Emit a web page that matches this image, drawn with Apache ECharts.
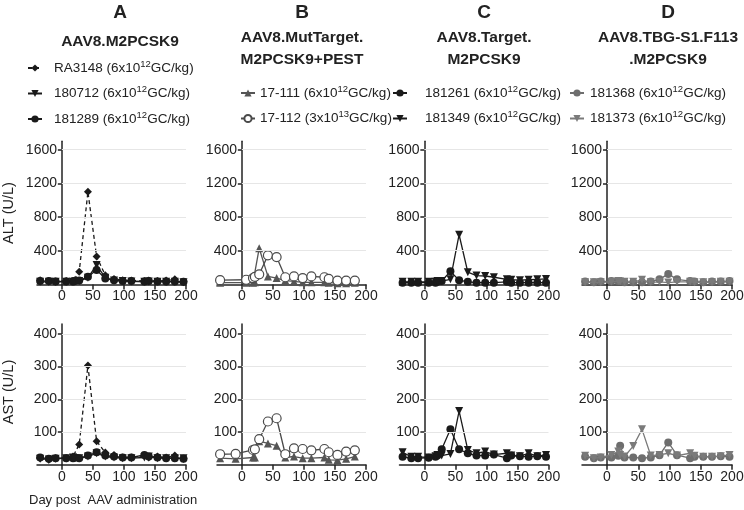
<!DOCTYPE html>
<html><head><meta charset="utf-8">
<script src="https://cdn.jsdelivr.net/npm/echarts@6/dist/echarts.min.js"></script>
<style>html,body{margin:0;padding:0;background:#fff}#c{width:744px;height:510px}</style>
</head><body><div id="c"></div>
<script>
// ---- data ----
const panelLetters = ['A','B','C','D'];
const panelTitles = [['AAV8.M2PCSK9'],['AAV8.MutTarget.','M2PCSK9+PEST'],['AAV8.Target.','M2PCSK9'],['AAV8.TBG-S1.F113','.M2PCSK9']];
const xTicks = [0,50,100,150,200];
const altTicks = [400,800,1200,1600];
const astTicks = [100,200,300,400];
const days = [-35,-21,-10,7,18,21,28,42,56,70,84,98,112,133,140,154,168,182,196];
const daysB = [-35,-10,7,18,21,28,42,56,70,84,98,112,133,140,154,168,182];

const namesA = ['RA3148','180712','181289'];
const namesB = ['17-111','17-112'];
const namesC = ['181261','181349'];
const namesD = ['181368','181373'];
const doseMant = {'RA3148':6,'180712':6,'181289':6,'17-111':6,'17-112':3,'181261':6,'181349':6,'181368':6,'181373':6};
const doseExp = {'RA3148':12,'180712':12,'181289':12,'17-111':12,'17-112':13,'181261':12,'181349':12,'181368':12,'181373':12};

// ALT (U/L)
const altRA3148 = [50,35,35,40,40,50,150,1100,330,110,65,50,45,40,45,40,45,60,30];
const alt180712 = [30,30,30,30,30,35,40,80,230,80,45,40,35,30,35,30,30,30,25];
const alt181289 = [40,40,35,35,35,40,45,90,170,70,50,40,40,35,40,35,35,35,30];
const alt17111 = [20,null,20,20,25,430,95,75,45,35,25,25,25,20,15,15,20];
const alt17112 = [50,null,55,75,90,120,345,325,85,95,75,95,85,65,45,45,45];
const alt181261 = [20,20,20,20,20,30,40,155,50,30,20,20,20,30,20,20,20,20,20];
const alt181349 = [30,30,30,30,30,40,40,60,590,145,105,100,85,60,55,50,55,60,65];
const alt181368 = [33,26,33,40,40,40,26,26,26,33,60,125,60,40,33,26,33,33,40];
const alt181373 = [25,25,25,30,40,35,30,30,55,25,30,22,30,30,25,25,25,30,30];
// AST (U/L)
const astRA3148 = [20,15,20,20,25,22,62,303,72,37,30,22,22,28,22,25,22,28,18];
const ast180712 = [18,16,18,20,22,20,20,25,35,25,22,20,20,22,25,20,20,20,20];
const ast181289 = [22,18,20,20,20,22,20,28,38,28,25,22,22,30,25,22,20,20,18];
const ast17111 = [20,18,null,22,22,72,65,58,22,25,20,20,22,15,14,18,25];
const ast17112 = [32,33,null,45,47,78,132,142,32,50,48,44,48,38,30,40,44];
const ast181261 = [24,20,20,21,24,28,47,108,47,35,28,28,31,20,28,26,24,26,24];
const ast181349 = [38,24,24,22,26,30,28,33,164,45,35,40,31,35,28,26,35,26,30];
const ast181368 = [24,20,22,22,27,58,22,22,20,22,29,68,29,20,24,24,24,26,24];
const ast181373 = [27,20,22,30,40,30,25,57,108,28,30,35,28,35,27,24,24,26,30];

// ---- layout ----
const FONT = "'Liberation Sans', Arial, Helvetica, sans-serif";
const gridLefts = [37, 217, 399.5, 582];
const gridWidths = [149, 149, 149, 150];
const rowTop = [141.3, 324];
const rowH = [143.1, 140.7];
const rowMax = [1700, 430];
const rowTicks = [altTicks, astTicks];
const rowNames = ['ALT (U/L)', 'AST (U/L)'];
const rowNameY = [213, 392];

const grids = [], xAxes = [], yAxes = [];
for (let r = 0; r < 2; r++) {
  for (let p = 0; p < 4; p++) {
    grids.push({left: gridLefts[p], top: rowTop[r], width: gridWidths[p], height: rowH[r], containLabel: false, outerBoundsMode: 'none'});
    const gi = grids.length - 1;
    xAxes.push({
      type: 'value', gridIndex: gi, min: -40, max: 200,
      axisLine: {show: true, onZero: true, lineStyle: {color: '#222', width: 1.5}},
      axisTick: {show: true, length: 5, customValues: xTicks, lineStyle: {color: '#222', width: 1.5}},
      axisLabel: {customValues: xTicks, formatter: v => String(v), color: '#222', fontSize: 14, fontFamily: FONT, margin: 5},
      splitLine: {show: false}
    });
    yAxes.push({
      type: 'value', gridIndex: gi, min: 0, max: rowMax[r],
      axisLine: {show: true, onZero: true, lineStyle: {color: '#222', width: 1.5}},
      axisTick: {show: true, length: 4, customValues: rowTicks[r], lineStyle: {color: '#222', width: 1.5}},
      axisLabel: {customValues: rowTicks[r], formatter: v => String(v), color: '#222', fontSize: 14, fontFamily: FONT, margin: -20},
      splitLine: {show: false}
    });
  }
}

function pairs(ds, vals) {
  const out = [];
  ds.forEach((d, i) => { if (vals[i] !== null) out.push([d, vals[i]]); });
  return out;
}
function gridMarks(r) {
  return {
    silent: true, symbol: ['none', 'none'], label: {show: false}, animation: false,
    lineStyle: {color: '#e6e6e6', width: 1, type: 'solid'},
    emphasis: {disabled: true},
    data: rowTicks[r].map(v => [{coord: [0, v]}, {coord: [200, v]}])
  };
}

const styles = {
  'RA3148': {color: '#1a1a1a', symbol: 'diamond', size: 8, dash: [4, 3], rot: 0},
  '180712': {color: '#1a1a1a', symbol: 'triangle', size: 8, rot: 180},
  '181289': {color: '#1a1a1a', symbol: 'circle', size: 8, rot: 0},
  '17-111': {color: '#555555', symbol: 'triangle', size: 8, rot: 0},
  '17-112': {color: '#4a4a4a', symbol: 'circle', size: 9, rot: 0, open: true},
  '181261': {color: '#1a1a1a', symbol: 'circle', size: 8, rot: 0},
  '181349': {color: '#1a1a1a', symbol: 'triangle', size: 8, rot: 180},
  '181368': {color: '#6e6e6e', symbol: 'circle', size: 8, rot: 0},
  '181373': {color: '#7a7a7a', symbol: 'triangle', size: 8, rot: 180}
};

const panelSeries = [
  [['RA3148', days, altRA3148, astRA3148], ['180712', days, alt180712, ast180712], ['181289', days, alt181289, ast181289]],
  [['17-111', daysB, alt17111, ast17111], ['17-112', daysB, alt17112, ast17112]],
  [['181261', days, alt181261, ast181261], ['181349', days, alt181349, ast181349]],
  [['181368', days, alt181368, ast181368], ['181373', days, alt181373, ast181373]]
];

const series = [];
for (let r = 0; r < 2; r++) {
  for (let p = 0; p < 4; p++) {
    const gi = r * 4 + p;
    panelSeries[p].forEach((s, k) => {
      const st = styles[s[0]];
      const ser = {
        type: 'line', name: s[0], xAxisIndex: gi, yAxisIndex: gi,
        data: pairs(s[1], r === 0 ? s[2] : s[3]),
        symbol: st.symbol, symbolSize: st.size, symbolRotate: st.rot,
        showAllSymbol: true, connectNulls: true, animation: false, clip: false,
        lineStyle: {color: st.color, width: 1.3, type: st.dash ? st.dash : 'solid'},
        itemStyle: st.open ? {color: '#ffffff', borderColor: st.color, borderWidth: 1.2}
                           : {color: st.color, borderColor: st.color, borderWidth: 0},
        z: 3 + k
      };
      if (k === 0) ser.markLine = gridMarks(r);
      series.push(ser);
    });
  }
}

const legendFmt = name => '{n|' + name + ' (' + doseMant[name] + 'x10}{s|' + doseExp[name] + '}{n|GC/kg)}';
const legendRich = {
  n: {fontSize: 13.5, lineHeight: 18, color: '#222', fontFamily: FONT},
  s: {fontSize: 9.5, lineHeight: 10, verticalAlign: 'top', color: '#222', fontFamily: FONT}
};
// [left, top, names, textPadLeft]
const legendPos = [[27, 59, namesA, 7], [240, 84, namesB, 0], [392, 84, namesC, 13], [569, 84, namesD, 1]];
const legends = legendPos.map(l => ({
  left: l[0], top: l[1], orient: 'vertical', data: l[2], selectedMode: false,
  itemWidth: 14, itemHeight: 9, itemGap: 9.5, padding: 0,
  formatter: legendFmt,
  textStyle: {rich: legendRich, padding: [0, 0, 0, l[3]]}
}));

const titleX = [120, 302, 484, 668];
const graphics = [];
panelLetters.forEach((t, i) => {
  graphics.push({type: 'text', x: titleX[i], y: 13, style: {text: t, font: 'bold 19px ' + FONT, fill: '#222', textAlign: 'center', textVerticalAlign: 'middle'}});
});
panelTitles.forEach((lines, i) => {
  const y0 = lines.length === 1 ? 42 : 38;
  lines.forEach((ln, j) => {
    graphics.push({type: 'text', x: titleX[i], y: y0 + j * 22, style: {text: ln, font: 'bold 15.5px ' + FONT, fill: '#222', textAlign: 'center', textVerticalAlign: 'middle'}});
  });
});
rowNames.forEach((nm, r) => {
  graphics.push({type: 'text', x: 9, y: rowNameY[r], rotation: Math.PI / 2, style: {text: nm, font: '14.5px ' + FONT, fill: '#222', textAlign: 'center', textVerticalAlign: 'middle'}});
});
graphics.push({type: 'text', x: 29, y: 500, style: {text: 'Day post  AAV administration', font: '13px ' + FONT, fill: '#222', textAlign: 'left', textVerticalAlign: 'middle'}});

const chart = echarts.init(document.getElementById('c'), null, {renderer: 'canvas'});
chart.setOption({
  backgroundColor: '#fff',
  animation: false,
  grid: grids, xAxis: xAxes, yAxis: yAxes,
  legend: legends,
  series: series,
  graphic: graphics
});
</script></body></html>
